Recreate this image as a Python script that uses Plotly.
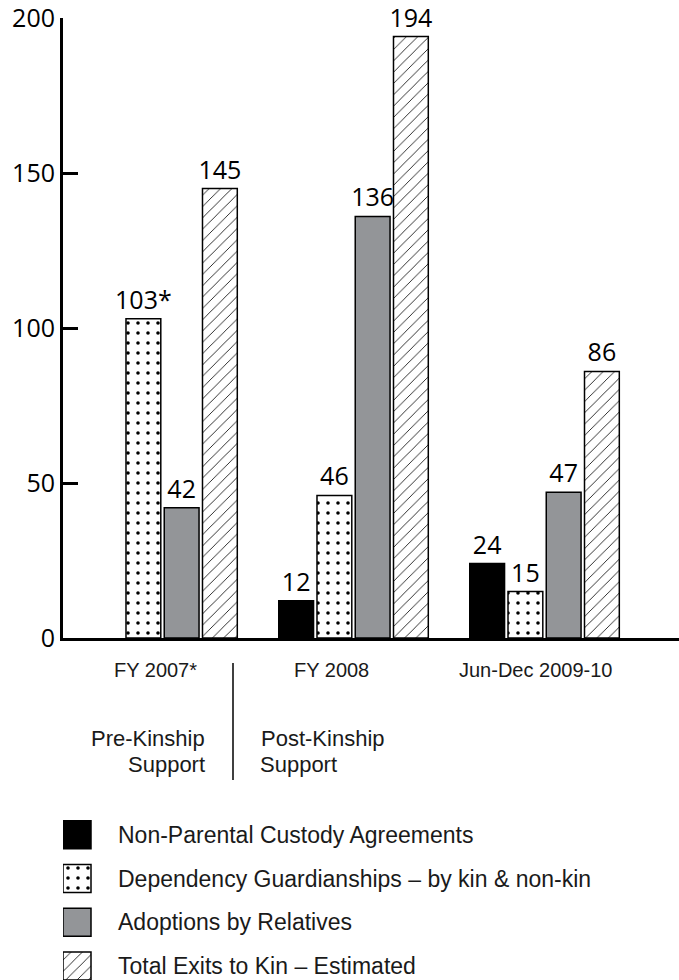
import plotly.graph_objects as go

# ---- data ----
categories = ["FY 2007*", "FY 2008", "Jun-Dec 2009-10"]
series_names = [
    "Non-Parental Custody Agreements",
    "Dependency Guardianships \u2013 by kin & non-kin",
    "Adoptions by Relatives",
    "Total Exits to Kin \u2013 Estimated",
]
npca = [None, 12, 24]
guardianships = [103, 46, 15]
adoptions = [42, 136, 47]
total_exits = [145, 194, 86]
guardianship_text = ["103*", "46", "15"]
y_ticks = [0, 50, 100, 150, 200]
period_labels = ["Pre-Kinship", "Support", "Post-Kinship", "Support"]

# ---- style ----
W, H = 679, 980
NUM_FONT = dict(family="Open Sans", size=25, color="black")
SANS = "Arial, Liberation Sans, sans-serif"
TXT_FONT = dict(family=SANS, size=20, color="#1a1a1a")
LEG_FONT = dict(family=SANS, size=23, color="#1a1a1a")
PER_FONT = dict(family=SANS, size=22, color="#1a1a1a")
GRAY = "#939598"
OUT = dict(color="black", width=1.5)
DOTS = dict(shape=".", fgcolor="black", bgcolor="white", size=10, solidity=0.1)
HATCH = dict(shape="/", fgcolor="black", bgcolor="white", size=8, solidity=0.1)
fills = [
    dict(color="black", line=OUT),
    dict(color="white", line=OUT, pattern=DOTS),
    dict(color=GRAY, line=OUT),
    dict(color="white", line=OUT, pattern=HATCH),
]


def px_x(p):
    return p / W


def px_y(p):
    return (H - p) / H


def fmt(v):
    return "" if v is None else str(v)


fig = go.Figure()
common = dict(textposition="outside", cliponaxis=False, constraintext="none",
              textfont=NUM_FONT, hoverinfo="skip")

values = [npca, guardianships, adoptions, total_exits]
texts = [[fmt(v) for v in npca], guardianship_text,
         [fmt(v) for v in adoptions], [fmt(v) for v in total_exits]]
for nm, vals, txt, mk in zip(series_names, values, texts, fills):
    fig.add_trace(go.Bar(x=categories, y=vals, text=txt, marker=mk, name=nm, **common))

# legend swatches (separate small subplot)
for nm, mk in zip(series_names, fills):
    fig.add_trace(go.Bar(y=[nm], x=[1], orientation="h", width=0.64,
                         offsetgroup="legend", alignmentgroup="legend",
                         xaxis="x2", yaxis="y2", hoverinfo="skip", marker=mk))

annotations = []
# category labels
cat_shift = [-7, -22, -9]
for c, s in zip(categories, cat_shift):
    annotations.append(dict(x=c, xref="x", y=px_y(670), yref="paper", text=c,
                            showarrow=False, xanchor="center", yanchor="middle",
                            xshift=s, font=TXT_FONT))
# period labels
for txt, xp, yp, anc in zip(period_labels, [207, 207, 259, 258], [738, 764, 738, 764],
                            ["right", "right", "left", "left"]):
    annotations.append(dict(x=px_x(xp), y=px_y(yp), xref="paper", yref="paper",
                            text=txt, showarrow=False, xanchor=anc,
                            yanchor="middle", font=PER_FONT))
# legend texts
for nm in series_names:
    annotations.append(dict(x=1, xref="x2", y=nm, yref="y2", text=nm, showarrow=False,
                            xanchor="left", yanchor="middle", xshift=25, font=LEG_FONT))

fig.update_layout(
    width=W, height=H, template="none",
    margin=dict(l=0, r=0, t=0, b=0, pad=0),
    paper_bgcolor="white", plot_bgcolor="white",
    showlegend=False, barmode="group", bargap=0.199, bargroupgap=0.09,
    font=dict(family="Open Sans", color="black"),
    xaxis=dict(domain=[px_x(63), 1], range=[-0.521, 2.704], type="category",
               showline=True, linecolor="black", linewidth=3, ticks="",
               showticklabels=False, showgrid=False, zeroline=False,
               automargin=False, fixedrange=True),
    yaxis=dict(domain=[px_y(638), px_y(18)], range=[0, 200], tickvals=y_ticks,
               showline=True, linecolor="black", linewidth=3, ticks="inside",
               ticklen=15, tickwidth=3, tickcolor="black", tickfont=NUM_FONT,
               ticklabeloverflow="allow",
               showgrid=False, zeroline=False, automargin=False, fixedrange=True),
    xaxis2=dict(domain=[px_x(63), 1], range=[0, 22], anchor="y2", visible=False,
                automargin=False, fixedrange=True),
    yaxis2=dict(domain=[0, px_y(813)], range=[3.318, -0.5], anchor="x2", type="category",
                categoryorder="array", categoryarray=series_names,
                visible=False, automargin=False, fixedrange=True),
    annotations=annotations,
    shapes=[dict(type="line", xref="paper", yref="paper", x0=px_x(233), x1=px_x(233),
                 y0=px_y(663), y1=px_y(780), line=dict(color="black", width=1.5))],
)

fig.write_html("out.html")
